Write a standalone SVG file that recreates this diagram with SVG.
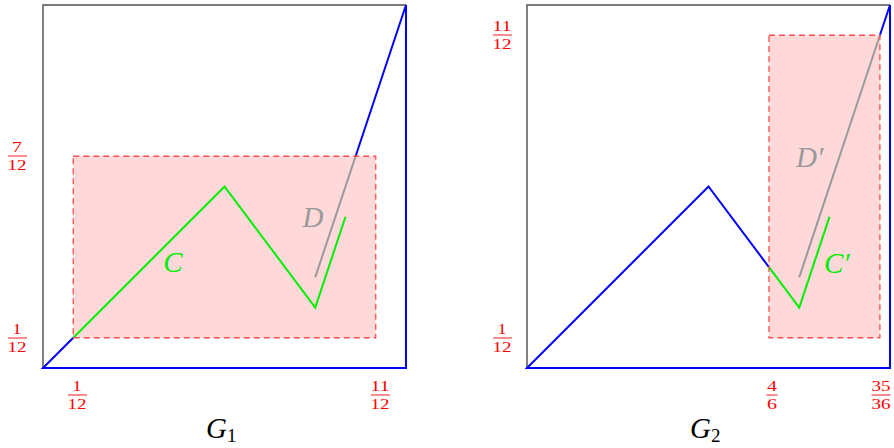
<svg xmlns="http://www.w3.org/2000/svg" width="894" height="448" viewBox="0 0 894 448">
<defs>
<style>
.bg{fill:#ffffff}
.region{fill:#ffd9d9;stroke:none}
.regionEdge{fill:none;stroke:#ff4d4d;stroke-width:1.3;stroke-dasharray:6 4}
.frame{fill:none;stroke:#4d4d4d;stroke-width:1.4}
.blue{fill:none;stroke:#0000ff;stroke-width:2;stroke-linejoin:miter}
.green{fill:none;stroke:#00ee00;stroke-width:2}
.gray{fill:none;stroke:#999999;stroke-width:2}
.frac{font-family:"Liberation Serif","DejaVu Serif",serif;font-size:15px;fill:#ff0000;text-anchor:middle}
.bar{stroke:#ff0000;stroke-width:0.9}
.lab{font-family:"Liberation Serif","DejaVu Serif",serif;font-style:italic;font-size:29px}
.title{font-family:"Liberation Serif","DejaVu Serif",serif;font-size:29px;fill:#000}
</style>
</defs>
<rect class="bg" x="0" y="0" width="894" height="448"/>

<g id="panel-G1">
  <rect class="region" x="73.25" y="156.25" width="302.5" height="181.5"/>
  <path class="frame" d="M43,368 V5 H406"/>
</g>
<g id="panel-G2">
  <rect class="region" x="769" y="35.25" width="110.9" height="302.5"/>
  <path class="frame" d="M527,368 V5 H890"/>
</g>

<g id="connectors">
  <!-- G1 -->
  <path class="blue" d="M73.25,337.75 L43,368 H406 V5 L355.6,156.25"/>
  <path class="gray" d="M315.25,277.25 L355.6,156.25"/>
  <path class="green" d="M73.25,337.75 L224.5,186.5 L315.25,307.5 L345.5,216.75"/>
  <!-- G2 -->
  <path class="blue" d="M769,267.17 L708.5,186.5 L527,368 H890 V5 L879.9,35.25"/>
  <path class="gray" d="M799.25,277.25 L879.9,35.25"/>
  <path class="green" d="M769,267.17 L799.25,307.5 L829.5,216.75"/>
</g>

<g id="region-G1-outline"><rect class="regionEdge" x="73.25" y="156.25" width="302.5" height="181.5"/></g>
<g id="region-G2-outline"><rect class="regionEdge" x="769" y="35.25" width="110.9" height="302.5"/></g>

<g id="label-C"><text class="lab" x="173" y="272" fill="#00ee00" text-anchor="middle">C</text></g>
<g id="label-D"><text class="lab" x="313" y="227" fill="#999999" text-anchor="middle">D</text></g>
<g id="label-Dp"><text class="lab" x="796" y="167" fill="#999999">D′</text></g>
<g id="label-Cp"><text class="lab" x="824" y="273" fill="#00ee00">C′</text></g>

<g id="title-G1"><text class="title" x="206" y="438"><tspan font-style="italic">G</tspan><tspan font-size="19" dy="4">1</tspan></text></g>
<g id="title-G2"><text class="title" x="690" y="438"><tspan font-style="italic">G</tspan><tspan font-size="19" dy="4">2</tspan></text></g>

<g id="tick-y-7-12">
  <text class="frac" x="17" y="152" textLength="10" lengthAdjust="spacingAndGlyphs">7</text><line class="bar" x1="8" y1="156" x2="27" y2="156"/><text class="frac" x="17" y="169.5" textLength="19" lengthAdjust="spacingAndGlyphs">12</text>
</g>
<g id="tick-y-1-12-a">
  <text class="frac" x="17" y="334" textLength="9" lengthAdjust="spacingAndGlyphs">1</text><line class="bar" x1="8" y1="338" x2="27" y2="338"/><text class="frac" x="17" y="351.5" textLength="19" lengthAdjust="spacingAndGlyphs">12</text>
</g>
<g id="tick-x-1-12">
  <text class="frac" x="77" y="391" textLength="9" lengthAdjust="spacingAndGlyphs">1</text><line class="bar" x1="68" y1="395" x2="87" y2="395"/><text class="frac" x="77" y="408.5" textLength="19" lengthAdjust="spacingAndGlyphs">12</text>
</g>
<g id="tick-x-11-12">
  <text class="frac" x="380" y="391" textLength="19" lengthAdjust="spacingAndGlyphs">11</text><line class="bar" x1="371" y1="395" x2="390" y2="395"/><text class="frac" x="380" y="408.5" textLength="19" lengthAdjust="spacingAndGlyphs">12</text>
</g>
<g id="tick-y-11-12">
  <text class="frac" x="502" y="31" textLength="19" lengthAdjust="spacingAndGlyphs">11</text><line class="bar" x1="493" y1="35" x2="512" y2="35"/><text class="frac" x="502" y="48.5" textLength="19" lengthAdjust="spacingAndGlyphs">12</text>
</g>
<g id="tick-y-1-12-b">
  <text class="frac" x="502" y="334" textLength="9" lengthAdjust="spacingAndGlyphs">1</text><line class="bar" x1="493" y1="338" x2="512" y2="338"/><text class="frac" x="502" y="351.5" textLength="19" lengthAdjust="spacingAndGlyphs">12</text>
</g>
<g id="tick-x-4-6">
  <text class="frac" x="772" y="391" textLength="10" lengthAdjust="spacingAndGlyphs">4</text><line class="bar" x1="766.5" y1="395" x2="777.5" y2="395"/><text class="frac" x="772" y="408.5" textLength="10" lengthAdjust="spacingAndGlyphs">6</text>
</g>
<g id="tick-x-35-36">
  <text class="frac" x="881" y="391" textLength="19" lengthAdjust="spacingAndGlyphs">35</text><line class="bar" x1="871.5" y1="395" x2="890.5" y2="395"/><text class="frac" x="881" y="408.5" textLength="19" lengthAdjust="spacingAndGlyphs">36</text>
</g>
</svg>
